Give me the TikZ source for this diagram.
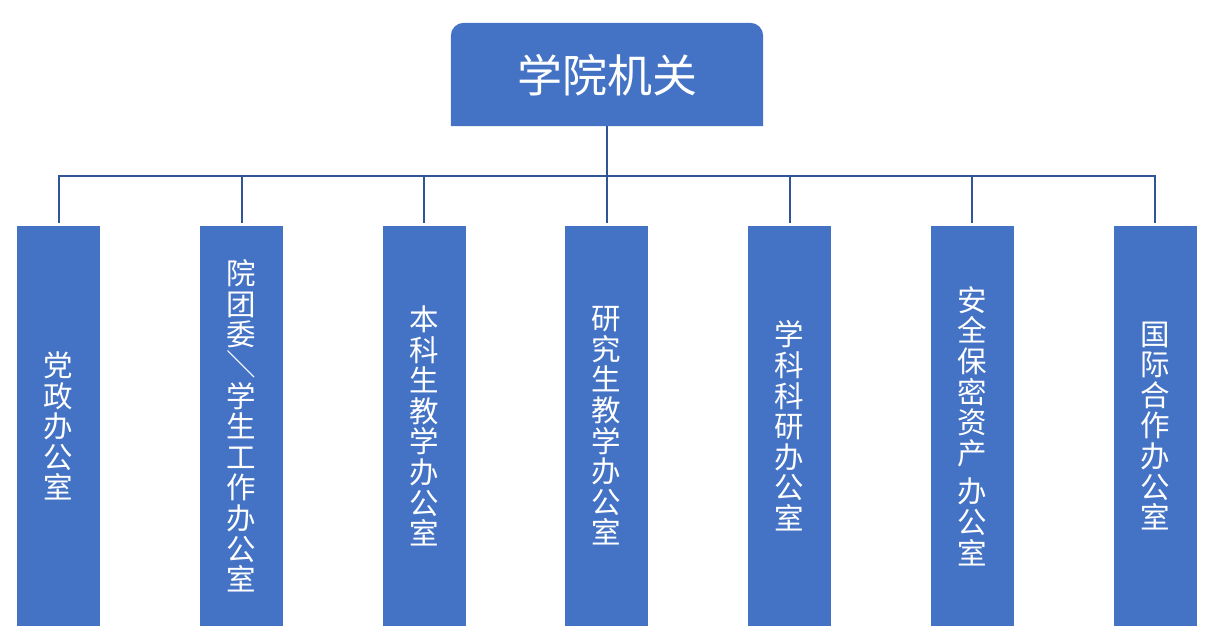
\documentclass[tikz,border=0pt]{standalone}
\usepackage{fontspec}
\newfontfamily\cjk{Noto Sans CJK SC}
\definecolor{boxblue}{HTML}{4472C4}
\definecolor{linkblue}{HTML}{2F5597}
\begin{document}
\begin{tikzpicture}[x=1pt,y=-1pt,
  conn/.style={draw=linkblue,line width=2pt},
  dept/.style={fill=boxblue,inner sep=0pt,minimum width=83pt,minimum height=400pt,
    text=white,align=center,font=\cjk\fontsize{29.5}{30.6}\selectfont},
  headbox/.style={inner sep=0pt,minimum width=312pt,minimum height=103pt,
    text=white,font=\cjk\fontsize{45}{50}\selectfont}]
\useasboundingbox (0,0) rectangle (1212,639);
\node[headbox] (top) at (607,74.5) {};
\fill[boxblue] (top.south west) [rounded corners=13pt] -- (top.north west) -- (top.north east) [sharp corners] -- (top.south east) -- cycle;
\node[headbox] (toptext) at (607,75) {学院机关};
\node[dept] (b1) at (58.5,426) {党\\政\\办\\公\\室};
\node[dept] (b2) at (241.5,426) {院\\团\\委\\\raisebox{1pt}{＼}\\学\\生\\工\\作\\办\\公\\室};
\node[dept] (b3) at (424,426) {本\\科\\生\\教\\学\\办\\公\\室};
\node[dept] (b4) at (606.5,426) {研\\究\\生\\教\\学\\办\\公\\室};
\node[dept] (b5) at (789.5,426) {学\\科\\科\\研\\办\\公\\室};
\node[dept] (b6) at (972,426) {安\\全\\保\\密\\资\\产\\[8pt]办\\公\\室};
\node[dept] (b7) at (1155,426) {国\\际\\合\\作\\办\\公\\室};
\coordinate (bus) at (0,176);
\draw[conn] (top.south) -- ([yshift=-1pt]top.south |- bus);
\draw[conn,line cap=rect] (b1.north |- bus) -- (b7.north |- bus);
\foreach \i in {1,...,7}{
  \draw[conn,shorten >=3pt] (b\i.north |- bus) -- (b\i.north);
}
\end{tikzpicture}
\end{document}
